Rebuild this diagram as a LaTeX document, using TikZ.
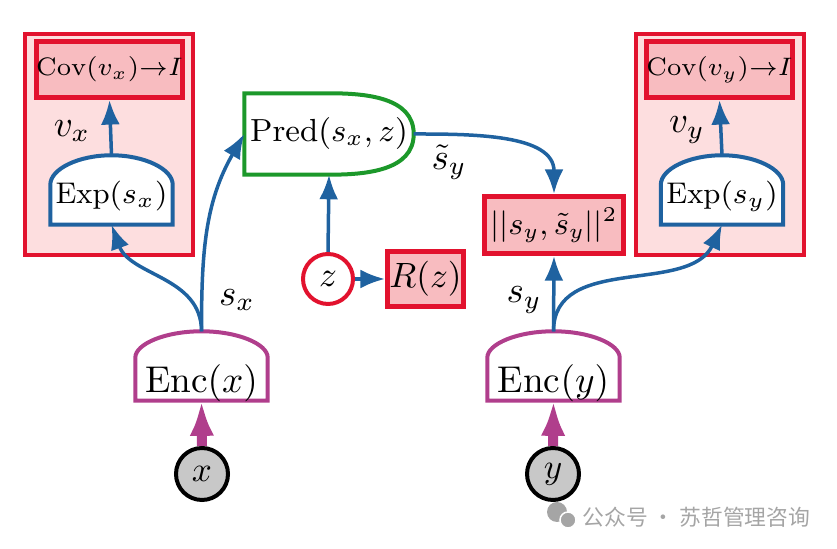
\documentclass[tikz,border=0pt]{standalone}
\usepackage{fix-cm}
\usepackage{fontspec}
\newfontfamily\cjk{Noto Sans CJK SC}
\usetikzlibrary{arrows.meta,calc,backgrounds}
\definecolor{boxred}{RGB}{226,18,46}
\definecolor{outerpink}{RGB}{253,222,223}
\definecolor{innerpink}{RGB}{248,188,192}
\definecolor{flowblue}{RGB}{31,98,160}
\definecolor{predgreen}{RGB}{28,152,42}
\definecolor{encmagenta}{RGB}{176,62,140}
\definecolor{obsgray}{RGB}{200,200,200}
\definecolor{markgray}{RGB}{165,165,165}
\def\dome#1#2#3#4{(#1.south west) -- ++(0,#2)
  .. controls +(0,#4) and +(-#3,0) .. (#1.north)
  .. controls +(#3,0) and +(0,#4) .. ($(#1.south east)+(0,#2)$)
  -- (#1.south east) -- cycle}
\def\predshape#1{(#1.north west) -- (#1.north) to[out=0,in=90] (#1.east)
  to[out=-90,in=0] (#1.south) -- (#1.south west) -- cycle}
\tikzset{outerbox/.style={draw=boxred, line width=0.4mm, fill=outerpink, inner sep=0pt,
      minimum width=16.8mm, minimum height=22.1mm},
    costbox/.style={draw=boxred, line width=0.5mm, fill=innerpink, inner sep=0pt},
    covbox/.style={costbox, minimum width=14.4mm, minimum height=5.6mm,
      font=\fontsize{7.2}{8}\selectfont},
    expnode/.style={inner sep=0pt, minimum width=12.1mm, text height=4.8mm, text depth=2mm,
      font=\fontsize{8.5}{10}\selectfont},
    encnode/.style={inner sep=0pt, minimum width=13.1mm, text height=6.1mm, text depth=0.7mm,
      font=\fontsize{10.6}{12}\selectfont},
    prednode/.style={inner sep=0pt, minimum width=16.8mm, minimum height=8mm,
      font=\fontsize{9.1}{11}\selectfont},
    expline/.style={draw=flowblue, line width=0.4mm, fill=white},
    encline/.style={draw=encmagenta, line width=0.4mm, fill=white},
    predline/.style={draw=predgreen, line width=0.4mm},
    latent/.style={circle, draw=boxred, line width=0.4mm, fill=white, minimum size=5mm,
      inner sep=0pt, font=\fontsize{10}{12}\selectfont},
    observed/.style={circle, draw=black, line width=0.4mm, fill=obsgray, minimum size=5.2mm,
      inner sep=0pt, font=\fontsize{10}{12}\selectfont},
    flow/.style={-{Latex[length=7pt,width=5.4pt]}, draw=flowblue, line width=0.35mm},
    feed/.style={-{Latex[length=10pt,width=7pt]}, draw=encmagenta, line width=1mm},
    tag/.style={inner sep=0pt, font=\fontsize{10.5}{12}\selectfont}}
\begin{document}
\begin{tikzpicture}[x=0.1mm, y=0.1mm]
\useasboundingbox (0,0) rectangle (837,549);
\begin{scope}[on background layer]
    \node[outerbox] (lbox) at (109,404.5) {};
    \node[outerbox] (rbox) at (719.5,404.5) {};
\end{scope}
% regularised branches
\node[covbox] (lcov) at (109.5,479.5) {$\mathrm{Cov}(v_x){\to}I$};
\node[covbox] (rcov) at (719.5,479.5) {$\mathrm{Cov}(v_y){\to}I$};
\node[expnode] (lexp) at (111.5,359) {$\mathrm{Exp}(s_x)$};
\node[expnode] (rexp) at (722,359) {$\mathrm{Exp}(s_y)$};
% predictor and latent
\node[prednode] (pred) at (329,415) {$\mathrm{Pred}(s_x, z)$};
\node[latent] (z) at (328,270) {$z$};
\node[costbox, minimum width=7.6mm, minimum height=5.5mm,
      font=\fontsize{10}{12}\selectfont] (rz) at (425.5,270) {$R(z)$};
\node[costbox, minimum width=13.9mm, minimum height=5.7mm,
      font=\fontsize{9}{11}\selectfont] (loss) at (554,324) {$||s_y, \tilde{s}_y||^2$};
% encoders and inputs
\node[encnode] (encx) at (201.5,183) {$\mathrm{Enc}(x)$};
\node[encnode] (ency) at (553.5,183) {$\mathrm{Enc}(y)$};
\node[observed] (x) at (202,75) {$x$};
\node[observed] (y) at (553,75) {$y$};
\begin{scope}[on background layer]
    \path[expline] \dome{lexp}{40}{33.4}{15.5};
    \path[expline] \dome{rexp}{40}{33.4}{15.5};
    \path[encline] \dome{encx}{43}{36.2}{13.8};
    \path[encline] \dome{ency}{43}{36.2}{13.8};
\end{scope}
\draw[predline] \predshape{pred};
% connectors
\draw[flow] (lexp.north) -- (lcov.south);
\draw[flow] (rexp.north) -- (rcov.south);
\draw[flow] (encx.north) to[out=90,in=-70] (lexp.south);
\draw[flow] (encx.north) to[out=90,in=-120] (pred.west);
\draw[flow] (ency.north) -- (loss.south);
\draw[flow] (ency.north) to[out=90,in=-115] (rexp.south);
\draw[flow] (pred.east) to[out=0,in=90] (loss.north);
\draw[flow] (z.north) -- (pred.south);
\draw[flow] (z.east) -- (rz.west);
\draw[feed] (x.north) -- (encx.south);
\draw[feed] (y.north) -- (ency.south);
% labels
\node[tag] (vx) at (72,418) {$v_x$};
\node[tag] (vy) at (687,419) {$v_y$};
\node[tag] (sx) at (237,249) {$s_x$};
\node[tag] (sy) at (524,249) {$s_y$};
\node[tag] (sty) at (449,387) {$\tilde{s}_y$};
% watermark
\fill[markgray] (557,37) circle (1mm);
\fill[markgray, draw=white, line width=0.15mm] (568,29) circle (0.8mm);
\node[anchor=west, inner sep=0pt, text=markgray, font=\cjk\fontsize{6.2}{7}\selectfont]
  (mark) at (582,32) {公众号 · 苏哲管理咨询};
\end{tikzpicture}
\end{document}
